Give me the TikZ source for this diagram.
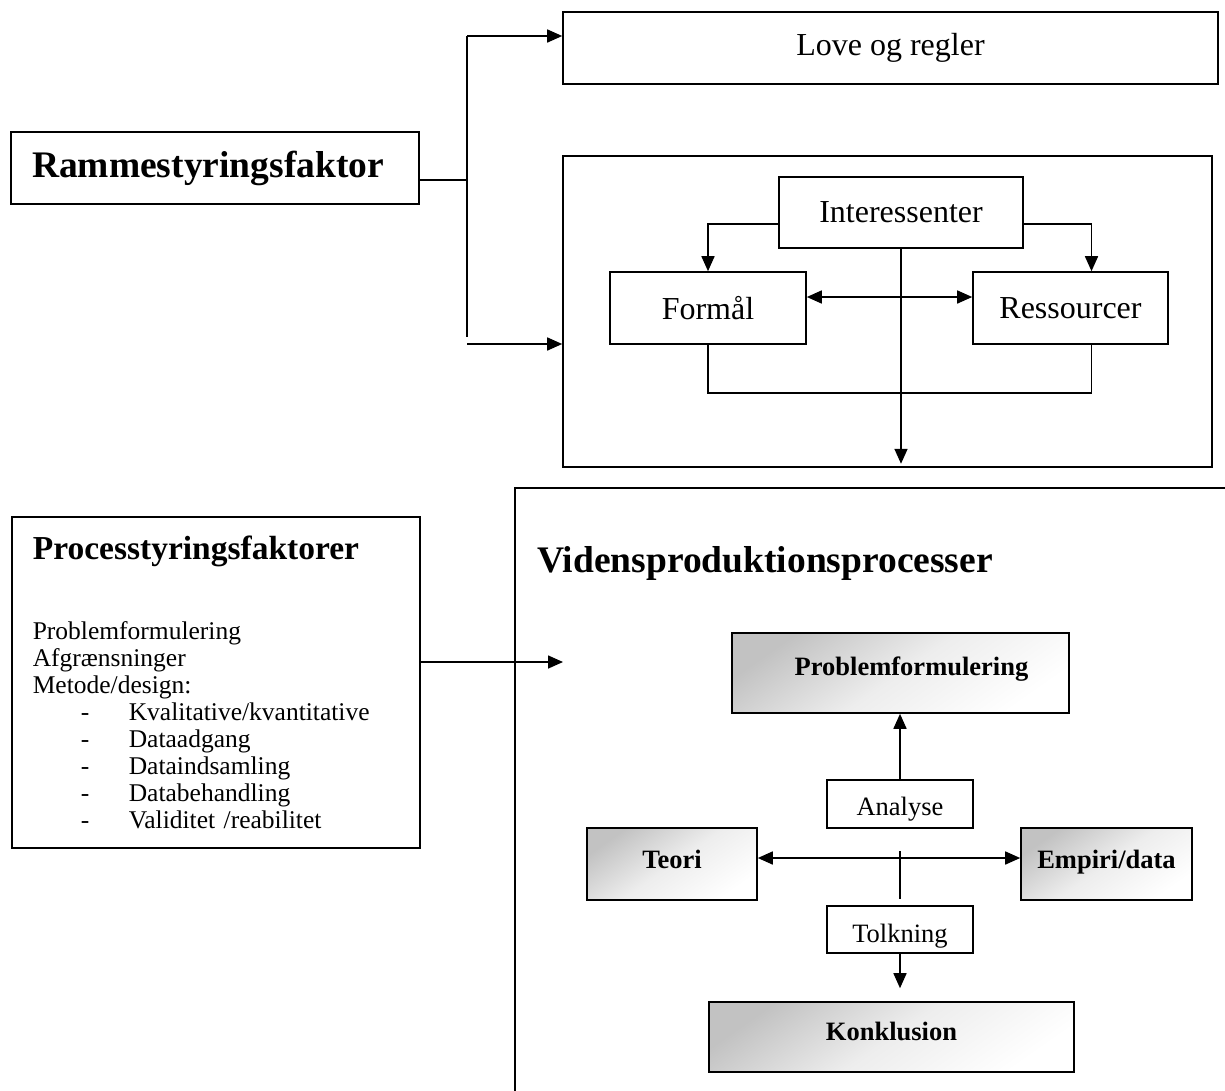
\documentclass[tikz,border=0pt]{standalone}
\usepackage{fontspec}
\setmainfont{Liberation Serif}
\usetikzlibrary{arrows.meta,positioning,calc}
\newcommand{\dashitem}[1]{\makebox[96pt][l]{\hspace*{48pt}-}#1}

\begin{document}
\begin{tikzpicture}[
  x=1pt, y=-1pt,
  box/.style={draw,line width=1.6pt,inner sep=0pt,align=center},
  bigtext/.style={font=\fontsize{32}{36}\selectfont},
  smalltext/.style={font=\fontsize{26.5}{30}\selectfont},
  shadebox/.style={box,top color=black!24,bottom color=white,middle color=black!7,shading angle=35,font=\fontsize{26.5}{30}\selectfont\bfseries},
  arrow/.style={-{Triangle[length=15pt,width=13pt]},line width=1.6pt},
  dblarrow/.style={{Triangle[length=15pt,width=13pt]}-{Triangle[length=15pt,width=13pt]},line width=1.6pt},
  link/.style={line width=1.6pt}
]
\useasboundingbox (0,0) rectangle (1225,1090);

% rammestyring
\node[box,minimum width=408pt,minimum height=72pt,text width=366pt,align=left,font=\fontsize{37.5}{40}\selectfont\bfseries] (ramme) at (215,168) {Rammestyringsfaktor};
\node[box,bigtext,minimum width=655pt,minimum height=72pt] (love) at (890.5,48) {Love og regler};
\node[box,minimum width=649pt,minimum height=311pt] (frame) at (887.5,311.5) {};
\node[box,bigtext,minimum width=244pt,minimum height=71pt] (inter) at (901,212.5) {Interessenter};
\node[box,bigtext,minimum width=196pt,minimum height=72pt] (formal) at (708,308) {Formål};
\node[box,bigtext,minimum width=195pt,minimum height=72pt] (ress) at (1070.5,308) {Ressourcer};

\coordinate (split) at (467,180);
\coordinate (top) at (467,36);
\coordinate (bot) at (467,337);
\coordinate (botstart) at (467,344);
\draw[link] ($(ramme.east)+(0,12)$) -- (split);
\draw[link] (top) -- (bot);
\draw[arrow] (top) -- (top -| love.west);
\draw[arrow] (botstart) -- (botstart -| frame.west);

\draw[arrow] (inter.west |- 0,224) -| (formal.north);
\draw[arrow] (inter.east |- 0,224) -| ($(ress.north)+(21,0)$);
\draw[dblarrow] ($(formal.east)+(0,-11)$) -- ($(ress.west)+(0,-11)$);
\draw[link] (formal.south) -- ++(0,48) -| ($(ress.south)+(21,0)$);
\draw[arrow,shorten >=4pt] (inter.south) -- (inter.south |- frame.south);

% processtyring
\node[box,anchor=north west,text width=366pt,inner xsep=21pt,inner ysep=19pt,align=left,font=\fontsize{25.5}{27}\selectfont] (proc) at (11,516) {%
  {\fontsize{33.5}{36}\selectfont\bfseries Processtyringsfaktorer}\\[53pt]
  Problemformulering\\
  Afgrænsninger\\
  Metode/design:\\
  \dashitem{Kvalitative/kvantitative}\\
  \dashitem{Dataadgang}\\
  \dashitem{Dataindsamling}\\
  \dashitem{Databehandling}\\
  \dashitem{Validitet /reabilitet}};
\coordinate (procout) at (563,662);
\draw[arrow] (proc.east |- procout) -- (procout);

% vidensproduktion
\coordinate (vtl) at (515,488);
\draw[link] (515,1095) -- (vtl) -- (1230,488);
\node[anchor=base west,inner sep=0pt,font=\fontsize{37.5}{40}\selectfont\bfseries] (vtitle) at (537,572) {Vidensproduktionsprocesser};

\node[shadebox,minimum width=337pt,text height=32pt,text depth=28pt,inner ysep=10pt] (probl) at (900.5,673) {\hspace*{22pt}Problemformulering};
\node[box,smalltext,minimum width=146pt,text height=30pt,text depth=8pt,inner ysep=5pt] (analyse) at (900,804) {Analyse};
\node[shadebox,minimum width=170pt,text height=30pt,text depth=22pt,inner ysep=10pt] (teori) at (672,864) {Teori};
\node[shadebox,minimum width=171pt,text height=30pt,text depth=22pt,inner ysep=10pt] (empiri) at (1106.5,864) {Empiri/data};
\node[box,smalltext,minimum width=146pt,text height=31pt,text depth=6pt,inner ysep=5pt] (tolk) at (900,929.5) {Tolkning};
\node[shadebox,minimum width=365pt,text height=28pt,text depth=22pt,inner ysep=10pt] (konkl) at (891.5,1037) {Konklusion};

\draw[arrow] (analyse.north) -- (analyse.north |- probl.south);
\draw[dblarrow] (teori.east |- 0,858) -- (empiri.west |- 0,858);
\draw[link] ($(tolk.north)+(0,-54)$) -- ($(tolk.north)+(0,-6)$);
\draw[arrow,shorten >=13pt] (tolk.south) -- (tolk.south |- konkl.north);
\end{tikzpicture}
\end{document}
